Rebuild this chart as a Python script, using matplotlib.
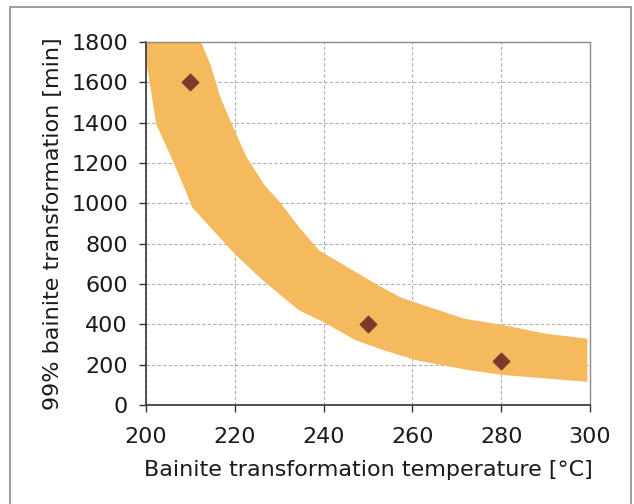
import matplotlib.pyplot as plt
from matplotlib.patches import Rectangle

# band edges
upper_x = [200, 212.4, 214.5, 216.8, 220.0, 222.7, 226.8, 229.9, 234.5, 239.0, 245.4,
           251.7, 257.2, 262.6, 271.7, 280.8, 289.8, 299.4]
upper_y = [1800, 1800, 1688, 1523, 1359, 1227, 1087, 1013, 881, 766, 683,
           601, 535, 494, 428, 395, 354, 329]
lower_x = [200, 200.2, 202.3, 205.4, 208.6, 210.4, 214.5, 220.0, 226.3, 234.5, 239.9,
           247.2, 253.5, 260.8, 272.6, 280.8, 289.8, 299.4]
lower_y = [1800, 1688, 1392, 1243, 1079, 980, 881, 749, 618, 469, 412,
           321, 272, 222, 173, 148, 132, 115]

temps = [210, 250, 280]
times = [1600, 400, 220]

fig = plt.figure(figsize=(6.34, 5.04), dpi=100)
fig.patches.append(Rectangle((10 / 634, -0.02), 621 / 634, 1.02 - 7 / 504,
                             transform=fig.transFigure, fill=False,
                             edgecolor="#8c8c8c", linewidth=1.2))

ax = fig.add_axes([146 / 634, 99 / 504, 444 / 634, 363 / 504])

poly_x = upper_x + lower_x[::-1]
poly_y = upper_y + lower_y[::-1]
ax.fill(poly_x, poly_y, color="#F5BA5E", linewidth=0, zorder=2)

ax.scatter(temps, times, marker="D", s=70, color="#7B3A2C", zorder=3)

ax.set_xlim(200, 300)
ax.set_ylim(0, 1800)
ax.set_xticks(range(200, 301, 20))
ax.set_yticks(range(0, 1801, 200))
ax.grid(True, linestyle=(0, (3, 2)), color="#b0b0b0", linewidth=0.8, zorder=1)

for side in ["left", "bottom"]:
    ax.spines[side].set_color("#333333")
    ax.spines[side].set_linewidth(1.2)
for side in ["top", "right"]:
    ax.spines[side].set_color("#8c8c8c")
    ax.spines[side].set_linewidth(1.0)

ax.tick_params(axis="both", labelsize=16, colors="#333333", labelcolor="#1a1a1a",
               length=5, width=1.0, direction="out")
ax.tick_params(axis="x", pad=11)
ax.tick_params(axis="y", pad=8)

ax.set_xlabel("Bainite transformation temperature [°C]", fontsize=16,
              color="#1a1a1a", labelpad=9)
ax.set_ylabel("99% bainite transformation [min]", fontsize=16,
              color="#1a1a1a", labelpad=6)

fig.savefig("out.png", dpi=100)
